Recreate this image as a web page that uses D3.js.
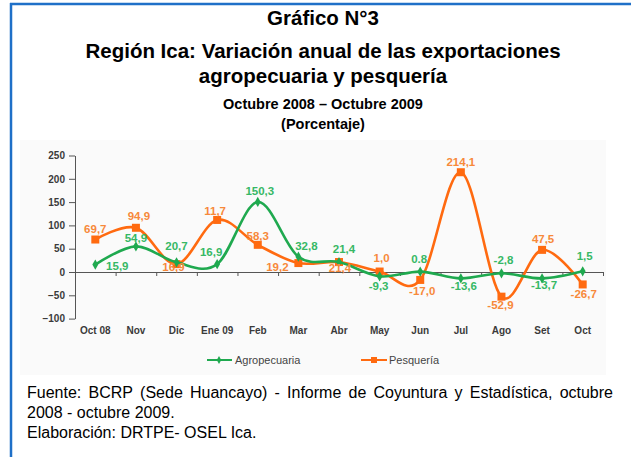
<!DOCTYPE html>
<html><head><meta charset="utf-8">
<script src="https://cdn.jsdelivr.net/npm/d3@7"></script>
<style>body{margin:0;background:#fff}svg{display:block}</style>
</head><body>
<script>
const categories = ["Oct 08","Nov","Dic","Ene 09","Feb","Mar","Abr","May","Jun","Jul","Ago","Set","Oct"];
const agropecuaria = [15.9,54.9,20.7,16.9,150.3,32.8,21.4,-9.3,0.8,-13.6,-2.8,-13.7,1.5];
const pesqueria = [69.7,94.9,16.9,111.7,58.3,19.2,21.4,1.0,-17.0,214.1,-52.9,47.5,-26.7];
const agroLabels = ["15,9","54,9","20,7","16,9","150,3","32,8","21,4","-9,3","0.8","-13,6","-2,8","-13,7","1,5"];
const pesqLabels = ["69,7","94,9","16,9","11,7","58,3","19,2","21,4","1,0","-17,0","214,1","-52,9","47,5","-26,7"];
const yTicks = [-100,-50,0,50,100,150,200,250];

// label offsets (layout only)
const agroOff = [[22,1],[0,-8],[0,-16],[-6,-12],[2,-11],[8,-11],[5,-13],[-1,10],[-1,-13],[3,8],[2,-13],[2,7],[2,-15]];
const pesqOff = [[0,-11],[3,-12],[-3,3],[-2,-9],[0,-9],[-21,4],[1,6],[2,-14],[2,11],[0,-10],[-1,8],[1,-11],[1,10]];

const W=631,H=457;
const green="#1fa94f", orange="#ff6a10", greenLbl="#36b865", orangeLbl="#f7893a";
const svg=d3.select("body").append("svg").attr("width",W).attr("height",H);

// frame
svg.append("rect").attr("x",20).attr("y",140).attr("width",586).attr("height",235).attr("fill","#fafafa");
svg.append("line").attr("x1",11).attr("x2",11).attr("y1",3).attr("y2",H).attr("stroke","#1f70c8").attr("stroke-width",2.5);
svg.append("line").attr("x1",10).attr("x2",W).attr("y1",4).attr("y2",4).attr("stroke","#1f70c8").attr("stroke-width",2.5);

// titles
const tf="'Liberation Sans', Arial, sans-serif";
const titles=[["Gráfico N°3",25,20.5],["Región Ica: Variación anual de las exportaciones",58,20.5],["agropecuaria y pesquería",83,20.5],["Octubre 2008 – Octubre 2009",109,14.5],["(Porcentaje)",129,14.5]];
titles.forEach(t=>svg.append("text").attr("x",323).attr("y",t[1]).attr("text-anchor","middle")
  .attr("font-family",tf).attr("font-weight","bold").attr("font-size",t[2]).attr("fill","#000").text(t[0]));

const x=d3.scaleBand().domain(categories).range([75,603]);
const cx=c=>x(c)+x.bandwidth()/2;
const y=d3.scaleLinear().domain([-100,250]).range([318.6,155.5]);

// y axis
const ya=svg.append("g").attr("transform","translate(75,0)")
  .call(d3.axisLeft(y).tickValues(yTicks).tickSize(6).tickSizeOuter(0).tickPadding(4));
ya.select(".domain").attr("stroke","#555");
ya.selectAll(".tick line").attr("stroke","#555");
ya.selectAll("text").attr("font-family",tf).attr("font-weight","bold").attr("font-size",10).attr("fill","#3a3a3a");

// zero axis with boundary ticks
const edges=d3.scaleLinear().domain([0,categories.length]).range([75,603]);
const za=svg.append("g").attr("transform",`translate(0,${y(0)})`)
  .call(d3.axisBottom(edges).tickValues(d3.range(1,categories.length+1)).tickSize(4).tickSizeOuter(0).tickFormat(""));
za.select(".domain").attr("stroke","#555");
za.selectAll(".tick line").attr("stroke","#555");

// category labels
const xa=svg.append("g").attr("transform","translate(0,327)")
  .call(d3.axisBottom(x).tickSize(0).tickPadding(0));
xa.select(".domain").remove();
xa.selectAll("text").attr("font-family",tf).attr("font-weight","bold").attr("font-size",10).attr("fill","#3a3a3a");

const line=d3.line().x((d,i)=>cx(categories[i])).y(d=>y(d)).curve(d3.curveCardinal.tension(0));

function series(vals,color,labels,off,lblColor,marker){
  svg.append("path").datum(vals).attr("d",line).attr("fill","none").attr("stroke",color).attr("stroke-width",2.6);
  const g=svg.append("g");
  vals.forEach((v,i)=>{
    const px=cx(categories[i]),py=y(v);
    if(marker==="sq") g.append("rect").attr("x",px-4).attr("y",py-4).attr("width",8).attr("height",8).attr("fill",color);
    else g.append("path").attr("d",d3.symbol(d3.symbolDiamond,30)()).attr("transform",`translate(${px},${py})`).attr("fill",color);
  });
  return ()=>{
    vals.forEach((v,i)=>{
      svg.append("text").attr("x",cx(categories[i])+off[i][0]).attr("y",y(v)+off[i][1]).attr("dy","0.35em")
        .attr("text-anchor","middle").attr("font-family",tf).attr("font-weight","bold").attr("font-size",11.5)
        .attr("fill",lblColor).text(labels[i]);
    });
  };
}
const lp=series(pesqueria,orange,pesqLabels,pesqOff,orangeLbl,"sq");
const la=series(agropecuaria,green,agroLabels,agroOff,greenLbl,"dia");
lp(); la();

// legend
const lg=svg.append("g");
lg.append("line").attr("x1",207).attr("x2",232).attr("y1",360).attr("y2",360).attr("stroke",green).attr("stroke-width",2);
lg.append("path").attr("d",d3.symbol(d3.symbolDiamond,18)()).attr("transform","translate(219,360)").attr("fill",green);
lg.append("text").attr("x",235).attr("y",360).attr("dy","0.35em").attr("font-family",tf).attr("font-size",11).attr("fill","#444").text("Agropecuaria");
lg.append("line").attr("x1",361).attr("x2",387).attr("y1",360).attr("y2",360).attr("stroke",orange).attr("stroke-width",2);
lg.append("rect").attr("x",371).attr("y",357).attr("width",6).attr("height",6).attr("fill",orange);
lg.append("text").attr("x",389).attr("y",360).attr("dy","0.35em").attr("font-family",tf).attr("font-size",11).attr("fill","#444").text("Pesquería");

// footer
const ff="'Liberation Sans Narrow','Arial Narrow','Liberation Sans',sans-serif";
function justified(str,x0,x1,yy){
  const words=str.split(" ");
  const g=svg.append("g");
  const nodes=words.map(w=>g.append("text").attr("y",yy).attr("font-family",ff).attr("font-size",16).attr("fill","#000").text(w));
  const widths=nodes.map(n=>n.node().getComputedTextLength());
  const gap=(x1-x0-d3.sum(widths))/(words.length-1);
  let cur=x0;
  nodes.forEach((n,i)=>{n.attr("x",cur);cur+=widths[i]+gap;});
}
justified("Fuente: BCRP (Sede Huancayo) - Informe de Coyuntura y Estadística, octubre",27,613,398);
svg.append("text").attr("x",27).attr("y",418).attr("font-family",ff).attr("font-size",16).text("2008 - octubre 2009.");
svg.append("text").attr("x",27).attr("y",438).attr("font-family",ff).attr("font-size",16).text("Elaboración: DRTPE- OSEL Ica.");
</script>
</body></html>
